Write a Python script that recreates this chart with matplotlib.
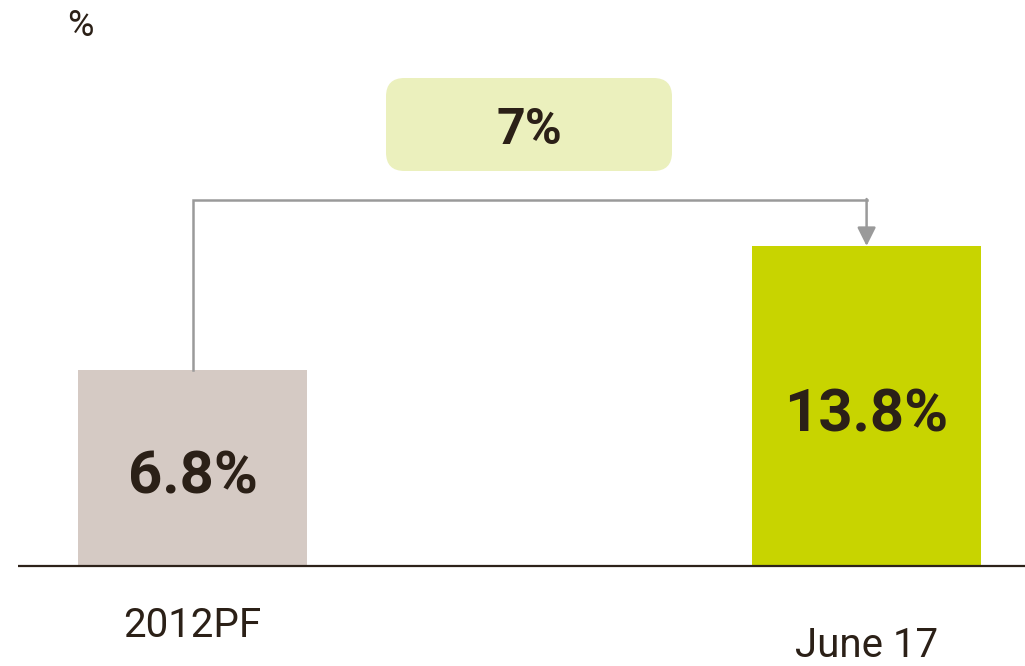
import matplotlib.pyplot as plt
from matplotlib.patches import FancyBboxPatch

# Data
categories = ['2012PF', 'June 17']
values = [6.8, 13.8]
value_labels = ['6.8%', '13.8%']
change_label = '7%'

bar_colors = ['#d5cac4', '#c8d400']
text_color = '#2b2017'
arrow_color = '#9a9a9a'

plt.rcParams['font.family'] = ['Roboto', 'DejaVu Sans']

fig = plt.figure(figsize=(10.25, 6.66), dpi=100)
ax = fig.add_axes([0, 0, 1, 1])
ax.axis('off')

# visual baseline of the bars (chart is not drawn to zero)
bar_base = -4.27
ax.set_xlim(-0.2856, 1.235)
ax.set_ylim(-9.92, 27.69)

x = list(range(len(categories)))
heights = [v - bar_base for v in values]
ax.bar(x, heights, bottom=bar_base, width=0.34, color=bar_colors, zorder=2)

# baseline
ax.plot([-0.259, 1.235], [bar_base, bar_base], color='#2d2219', lw=1.6, zorder=3,
        solid_capstyle='butt')

# value labels inside bars
for xi, v, lab in zip(x, values, value_labels):
    ax.text(xi, (v + bar_base) / 2 - 0.55, lab, ha='center', va='center',
            fontsize=43, fontweight='bold', color=text_color, zorder=4)

# category labels
ax.text(x[0], -7.66, categories[0], ha='center', va='center', fontsize=29,
        color=text_color)
ax.text(x[1], -8.75, categories[1], ha='center', va='center', fontsize=29,
        color=text_color)

# bracket arrow
bracket_y = 16.4
ax.plot([x[0], x[0], x[1]], [values[0], bracket_y, bracket_y], color=arrow_color,
        lw=1.8, solid_joinstyle='miter', zorder=3)
ax.annotate('', xy=(x[1], values[1]), xytext=(x[1], bracket_y + 0.05),
            arrowprops=dict(arrowstyle='-|>', color=arrow_color, lw=1.8,
                            mutation_scale=28, shrinkA=0, shrinkB=0), zorder=3)

# change box
W, H = 1025, 666
box = FancyBboxPatch((386 / W, 1 - 171 / H), 286 / W, 93 / H,
                     boxstyle='round,pad=0,rounding_size=0.018',
                     mutation_aspect=W / H, transform=fig.transFigure,
                     facecolor='#ebf0bd', edgecolor='none', zorder=1)
fig.patches.append(box)
fig.text(529 / W, 1 - 131 / H, change_label, ha='center', va='center',
         fontsize=36, fontweight='bold', color=text_color)

# unit
fig.text(80 / W, 1 - 26 / H, '%', ha='center', va='center', fontsize=26,
         color=text_color)

fig.savefig('out.png', dpi=100)
